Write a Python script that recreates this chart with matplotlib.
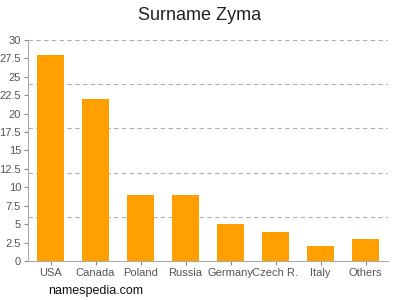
import matplotlib
matplotlib.use("Agg")
import matplotlib.pyplot as plt
import numpy as np

countries = ["USA", "Canada", "Poland", "Russia", "Germany", "Czech R.", "Italy", "Others"]
counts = [28, 22, 9, 9, 5, 4, 2, 3]
yticks = [0, 2.5, 5, 7.5, 10, 12.5, 15, 17.5, 20, 22.5, 25, 27.5, 30]
ytick_labels = ["0", "2.5", "5", "7.5", "10", "12.5", "15", "17.5", "20", "22.5", "25", "27.5", "30"]
grid_levels = [6, 12, 18, 24, 30]

plt.rcParams["font.family"] = ["Liberation Sans", "DejaVu Sans"]

fig = plt.figure(figsize=(4, 3), dpi=100)
ax = fig.add_axes([0.07, 0.13, 0.9, 0.737])

x = np.arange(len(countries))
for g in grid_levels:
    ax.axhline(g, color="#b0b0b0", linestyle=(0, (4, 3)), linewidth=0.8, zorder=0)
ax.bar(x, counts, width=0.62, color="#ffa000", zorder=2)

ax.set_xlim(-0.5, len(countries) - 0.5)
ax.set_ylim(0, 30)
ax.set_xticks(x)
ax.set_xticklabels(countries)
ax.set_yticks(yticks)
ax.set_yticklabels(ytick_labels)
ax.tick_params(axis="both", colors="#888888", labelcolor="#555555", labelsize=8, length=3, width=0.8, pad=2)

for side in ["top", "right"]:
    ax.spines[side].set_visible(False)
for side in ["left", "bottom"]:
    ax.spines[side].set_color("#aaaaaa")
    ax.spines[side].set_linewidth(0.8)

fig.text(0.5, 0.947, "Surname Zyma", ha="center", va="center", fontsize=13, color="#222222")
fig.text(0.12, 0.03, "namespedia.com", ha="left", va="center", fontsize=9, color="#111111")

fig.savefig("out.png", dpi=100)
